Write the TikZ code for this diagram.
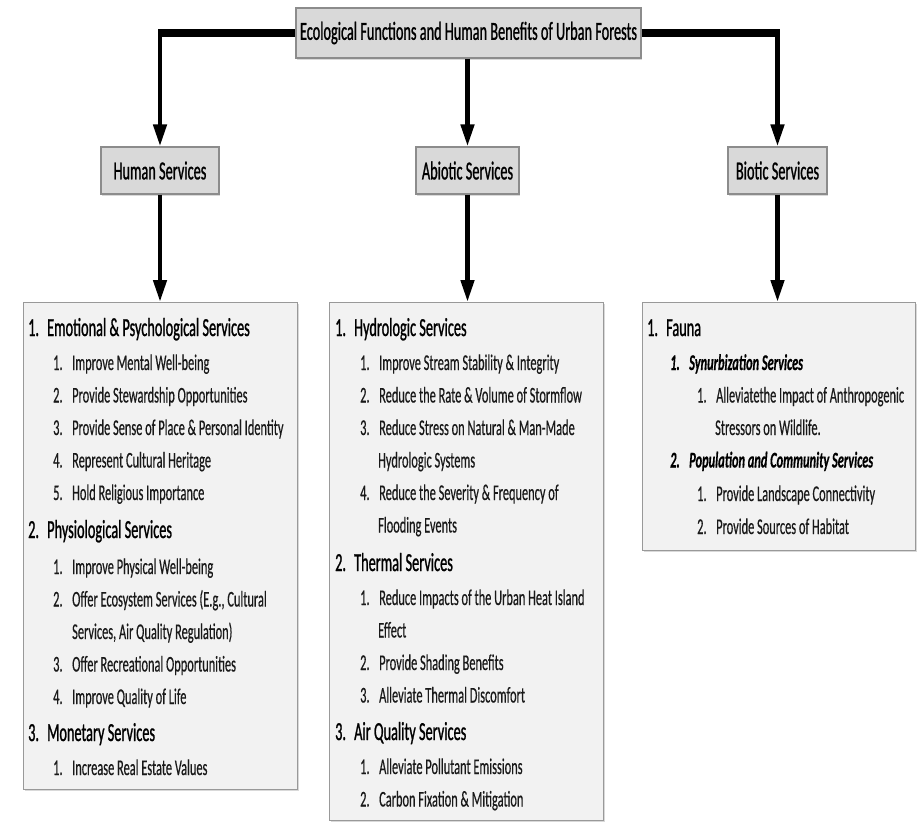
\documentclass[tikz,border=0pt]{standalone}
\usepackage{fontspec}
\setmainfont{Carlito}[FakeStretch=0.55,FakeBold=0.4]
\newfontfamily\headfont{Carlito}[FakeStretch=0.55,FakeBold=0.9]
\usepackage{tikz}
\usetikzlibrary{arrows.meta,shadows}

\newcommand{\lnum}[1]{\makebox[19pt][l]{#1}}

\begin{document}
\begin{tikzpicture}[x=1pt,y=-1pt,->,>={Triangle[length=22pt,width=13pt]},
                    line join=miter]
  \tikzstyle{headbox}=[draw=black!45,fill=black!15,line width=1.2pt,text=black,
                       font=\headfont\fontsize{26}{30}\selectfont,minimum height=47pt,
                       drop shadow={shadow xshift=1pt,shadow yshift=-1.5pt,opacity=0.3}]
  \tikzstyle{listbox}=[draw=black!40,fill=black!5,line width=1pt,anchor=north west,
                       drop shadow={shadow xshift=1pt,shadow yshift=-1.5pt,opacity=0.3}]
  \tikzstyle{link}=[line width=4.5pt]
  \tikzstyle{trunk}=[-,line width=8pt]
  \tikzstyle{secline}=[anchor=base west,inner sep=0pt,text=black,
                       font=\headfont\fontsize{26}{30}\selectfont]
  \tikzstyle{itemline}=[anchor=base west,inner sep=0pt,text=black!90,
                        font=\fontsize{22.5}{27}\selectfont]
  \tikzstyle{subline}=[itemline,text=black,font=\fontsize{22.5}{27}\selectfont\bfseries\itshape]

  \useasboundingbox (0,0) rectangle (921,825);

  % top and the three service groups
  \node[headbox,minimum width=345pt,minimum height=50pt] (title) at (468.5,33)
        {Ecological Functions and Human Benefits of Urban Forests};
  \node[headbox,minimum width=118pt] (human)   at (160,170.5)   {Human Services};
  \node[headbox,minimum width=103pt] (abiotic) at (467.5,170.5) {Abiotic Services};
  \node[headbox,minimum width=99pt]  (biotic)  at (777.5,170.5) {Biotic Services};

  \node[listbox,minimum width=274pt,minimum height=487pt] (hlist) at (23,302)  {};
  \node[listbox,minimum width=274pt,minimum height=518pt] (alist) at (329,302) {};
  \node[listbox,minimum width=273pt,minimum height=248pt] (blist) at (642,302) {};

  \coordinate (lcorner) at (160,33);
  \coordinate (rcorner) at (777.5,33);

  \draw[trunk] (title.west) -- (lcorner);
  \draw[trunk] (title.east) -- (rcorner);
  \draw[link] ([yshift=4pt]lcorner) -- (human);
  \draw[link] ([yshift=4pt]rcorner) -- (biotic);
  \draw[link] (title.south -| abiotic) -- (abiotic);
  \draw[link] (human)   -- (human |- hlist.north);
  \draw[link] (abiotic) -- (abiotic |- alist.north);
  \draw[link] (biotic)  -- (biotic |- blist.north);

  % human services
  \node[secline]  (h1)   at (28,336)   {\lnum{1.}Emotional \& Psychological Services};
  \node[itemline] (h1a)  at (53,370)   {\lnum{1.}Improve Mental Well-being};
  \node[itemline] (h1b)  at (53,402.5) {\lnum{2.}Provide Stewardship Opportunities};
  \node[itemline] (h1c)  at (53,435)   {\lnum{3.}Provide Sense of Place \& Personal Identity};
  \node[itemline] (h1d)  at (53,467.5) {\lnum{4.}Represent Cultural Heritage};
  \node[itemline] (h1e)  at (53,500)   {\lnum{5.}Hold Religious Importance};
  \node[secline]  (h2)   at (28,538)   {\lnum{2.}Physiological Services};
  \node[itemline] (h2a)  at (53,574)   {\lnum{1.}Improve Physical Well-being};
  \node[itemline] (h2b)  at (53,606.5) {\lnum{2.}Offer Ecosystem Services (E.g., Cultural};
  \node[itemline] (h2bb) at (72,639)   {Services, Air Quality Regulation)};
  \node[itemline] (h2c)  at (53,671.5) {\lnum{3.}Offer Recreational Opportunities};
  \node[itemline] (h2d)  at (53,704)   {\lnum{4.}Improve Quality of Life};
  \node[secline]  (h3)   at (28,741)   {\lnum{3.}Monetary Services};
  \node[itemline] (h3a)  at (53,775)   {\lnum{1.}Increase Real Estate Values};

  % abiotic services
  \node[secline]  (a1)   at (335,336)   {\lnum{1.}Hydrologic Services};
  \node[itemline] (a1a)  at (360,370)   {\lnum{1.}Improve Stream Stability \& Integrity};
  \node[itemline] (a1b)  at (360,402.5) {\lnum{2.}Reduce the Rate \& Volume of Stormflow};
  \node[itemline] (a1c)  at (360,435)   {\lnum{3.}Reduce Stress on Natural \& Man-Made};
  \node[itemline] (a1cc) at (378,467.5) {Hydrologic Systems};
  \node[itemline] (a1d)  at (360,500)   {\lnum{4.}Reduce the Severity \& Frequency of};
  \node[itemline] (a1dd) at (378,532.5) {Flooding Events};
  \node[secline]  (a2)   at (335,571)   {\lnum{2.}Thermal Services};
  \node[itemline] (a2a)  at (360,605)   {\lnum{1.}Reduce Impacts of the Urban Heat Island};
  \node[itemline] (a2aa) at (378,637.5) {Effect};
  \node[itemline] (a2b)  at (360,670)   {\lnum{2.}Provide Shading Benefits};
  \node[itemline] (a2c)  at (360,702.5) {\lnum{3.}Alleviate Thermal Discomfort};
  \node[secline]  (a3)   at (335,740)   {\lnum{3.}Air Quality Services};
  \node[itemline] (a3a)  at (360,774)   {\lnum{1.}Alleviate Pollutant Emissions};
  \node[itemline] (a3b)  at (360,806.5) {\lnum{2.}Carbon Fixation \& Mitigation};

  % biotic services
  \node[secline]  (b1)   at (647,336)   {\lnum{1.}Fauna};
  \node[subline]  (b1a)  at (670,370)   {\lnum{1.}Synurbization Services};
  \node[itemline] (b1a1) at (697,402.5) {\lnum{1.}Alleviatethe Impact of Anthropogenic};
  \node[itemline] (b1a2) at (715,435)   {Stressors on Wildlife.};
  \node[subline]  (b1b)  at (670,467.5) {\lnum{2.}Population and Community Services};
  \node[itemline] (b1b1) at (697,501)   {\lnum{1.}Provide Landscape Connectivity};
  \node[itemline] (b1b2) at (697,534)   {\lnum{2.}Provide Sources of Habitat};
\end{tikzpicture}
\end{document}
